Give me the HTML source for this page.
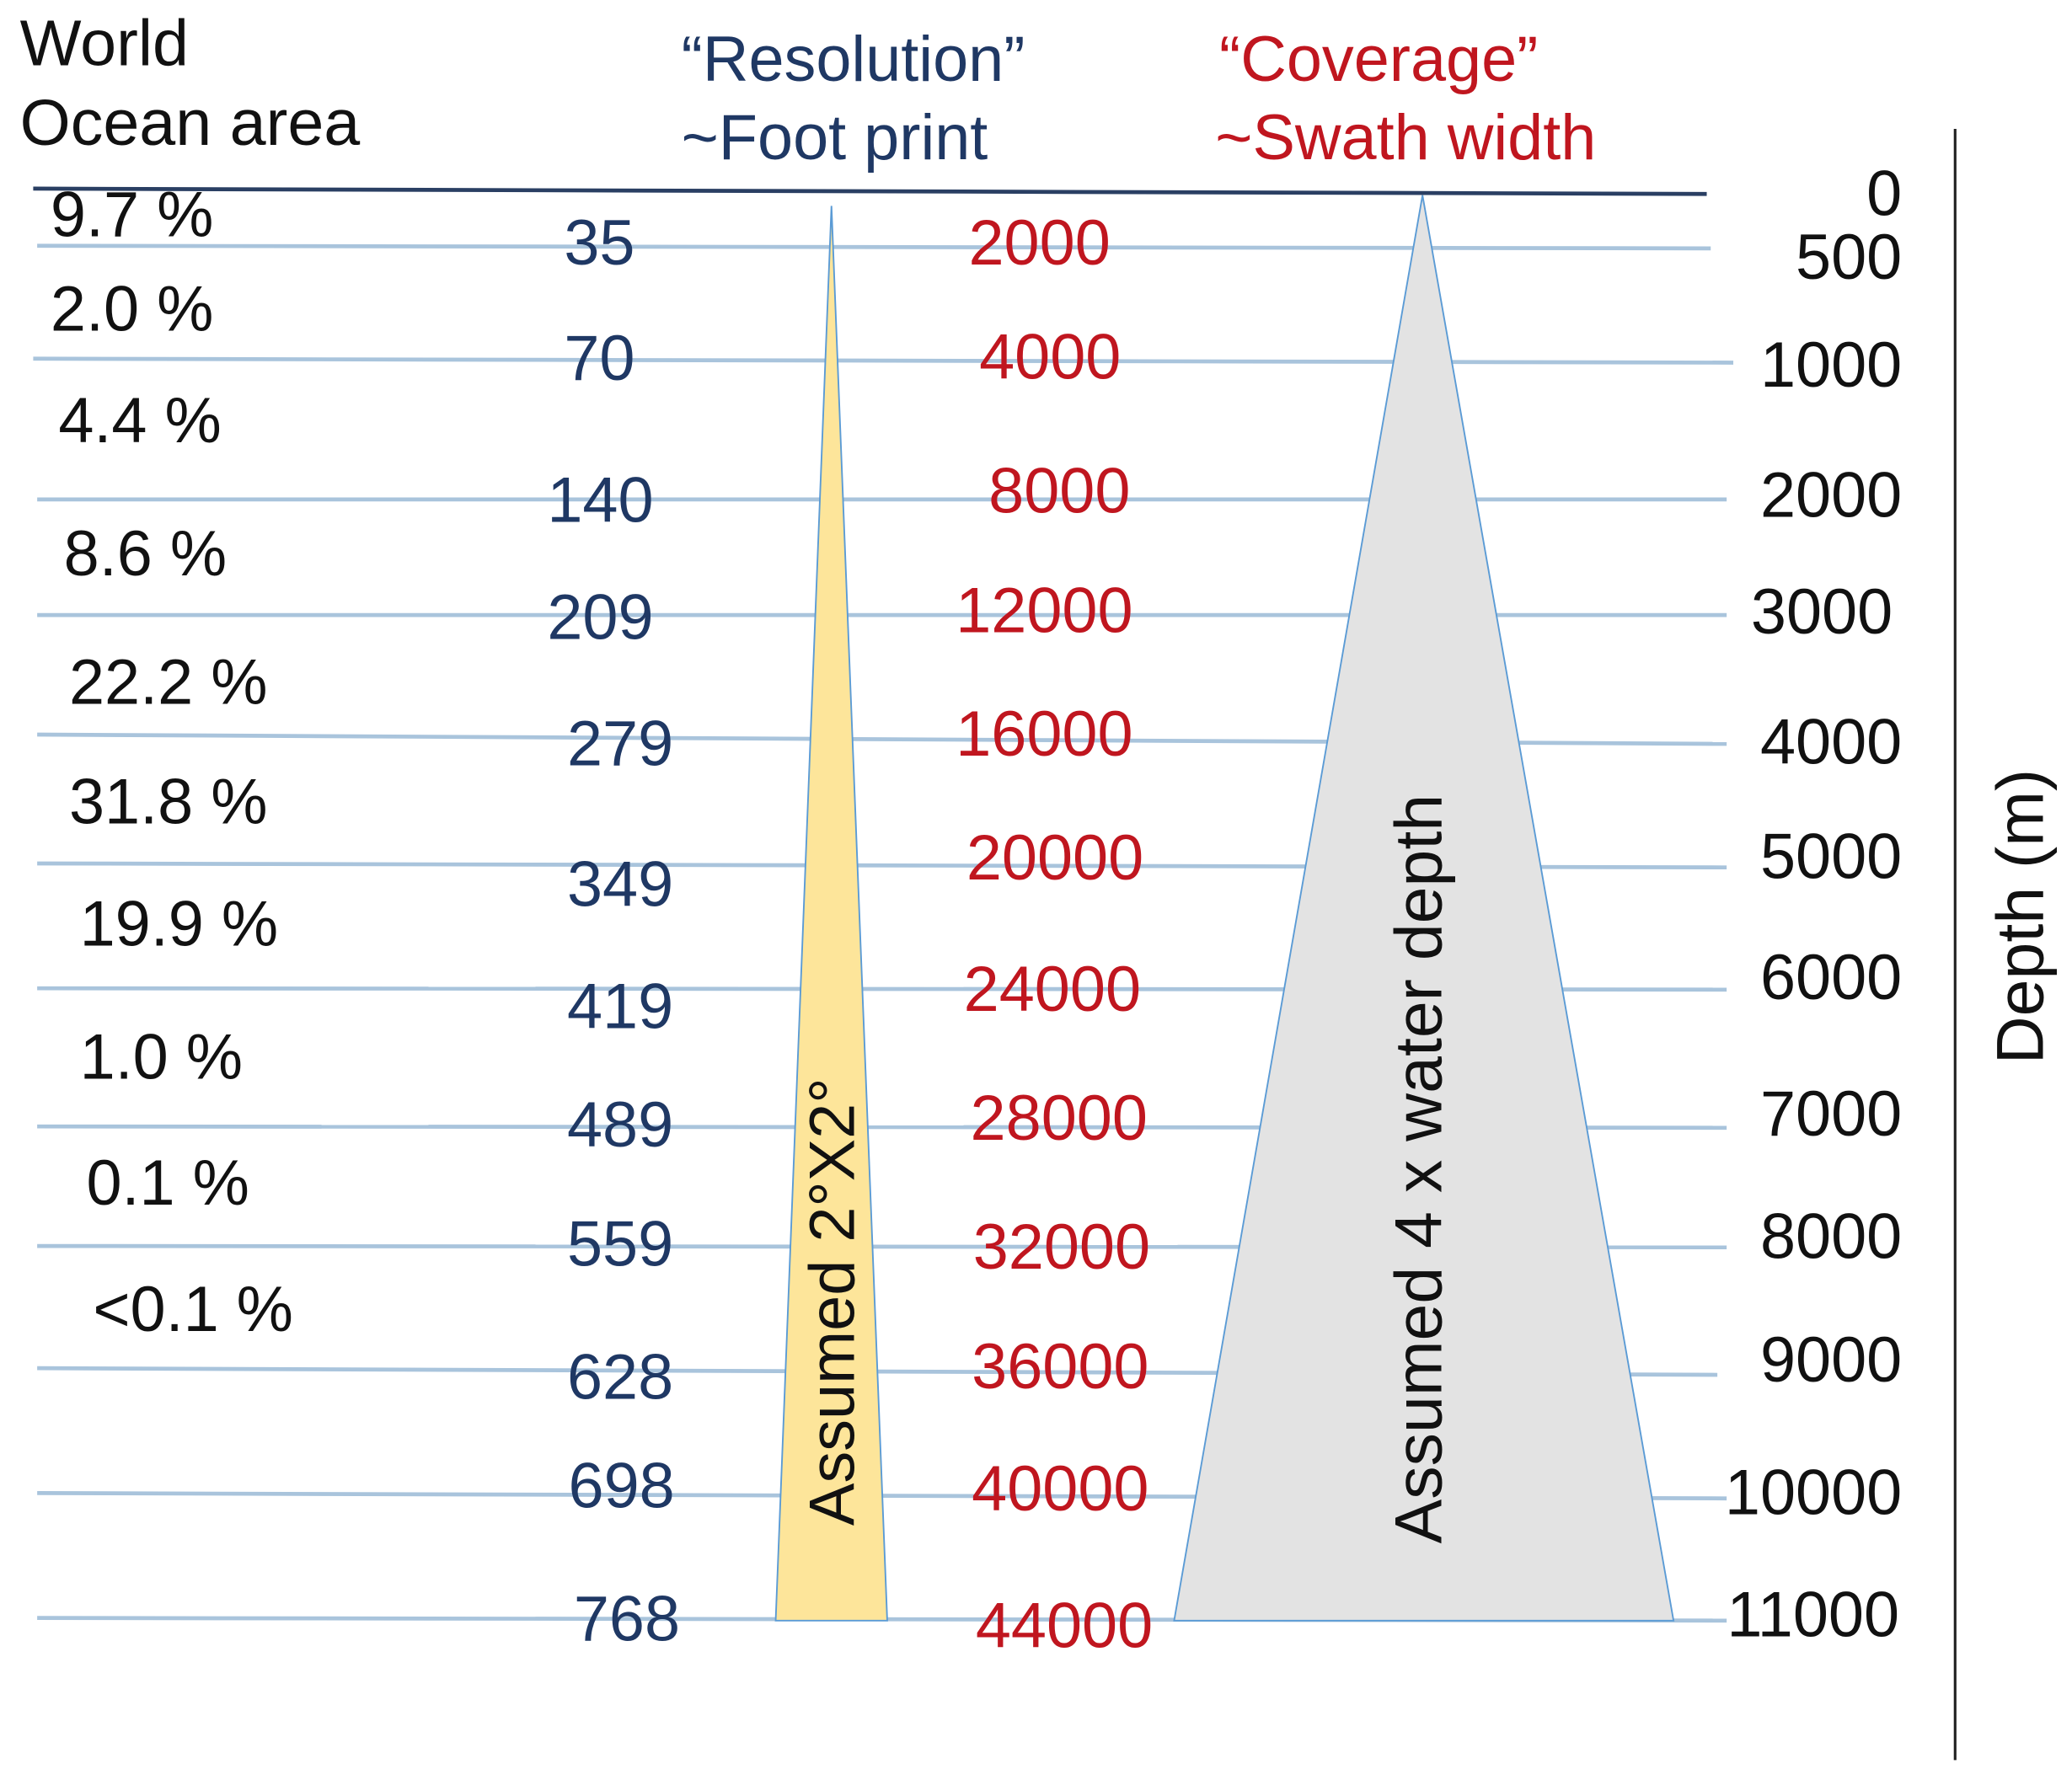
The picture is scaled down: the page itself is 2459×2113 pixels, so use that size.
<!DOCTYPE html>
<html><head><meta charset="utf-8"><style>
html,body{margin:0;padding:0;background:#fff;}
svg{display:block;}
text{font-family:"Liberation Sans",Arial,sans-serif;}
</style></head><body>
<svg width="2459" height="2113" viewBox="0 0 1560 1340" preserveAspectRatio="none" xmlns="http://www.w3.org/2000/svg">
<rect width="1560" height="1340" fill="#fff"/>
<g stroke="#a9c4dc" stroke-width="3">
<line x1="28" y1="185" x2="1288" y2="187"/>
<line x1="25" y1="270" x2="1305" y2="273"/>
<line x1="28" y1="376" x2="1300" y2="376"/>
<line x1="28" y1="463" x2="1300" y2="463"/>
<line x1="28" y1="553" x2="1300" y2="560"/>
<line x1="28" y1="650" x2="1300" y2="653"/>
<line x1="28" y1="744" x2="1300" y2="745"/>
<line x1="28" y1="848" x2="1300" y2="849"/>
<line x1="28" y1="938" x2="1300" y2="939"/>
<line x1="28" y1="1030" x2="1293" y2="1035"/>
<line x1="28" y1="1124" x2="1300" y2="1128"/>
<line x1="28" y1="1218" x2="1300" y2="1220"/>
</g>
<line x1="25" y1="142" x2="1285" y2="146" stroke="#2a3f63" stroke-width="3"/>
<line x1="1472" y1="97" x2="1472" y2="1325" stroke="#222" stroke-width="2"/>
<polygon points="626,155 584,1220 668,1220" fill="#fde59a" stroke="#5b9bd5" stroke-width="1.2"/>
<polygon points="1071,147 884,1220 1260,1220" fill="#e3e3e3" stroke="#5b9bd5" stroke-width="1.2"/>
<g font-size="49" fill="#111">
<text x="15" y="49">World</text>
<text x="15" y="109">Ocean area</text>
</g>
<g font-size="48" fill="#1f3864">
<text x="513" y="61">“Resolution”</text>
<text x="513" y="120">~Foot print</text>
</g>
<g font-size="48" fill="#c0161f">
<text x="918" y="61">“Coverage”</text>
<text x="915" y="120">~Swath width</text>
</g>
<g font-size="48" fill="#111">
<text x="38" y="178">9.7 %</text>
<text x="38" y="249">2.0 %</text>
<text x="44" y="333">4.4 %</text>
<text x="48" y="433">8.6 %</text>
<text x="52" y="530">22.2 %</text>
<text x="52" y="620">31.8 %</text>
<text x="60" y="712">19.9 %</text>
<text x="60" y="812">1.0 %</text>
<text x="65" y="907">0.1 %</text>
<text x="70" y="1002">&lt;0.1 %</text>
</g>
<g font-size="48" fill="#1f3864" text-anchor="end">
<text x="478" y="199">35</text>
<text x="478" y="286">70</text>
<text x="492" y="393">140</text>
<text x="492" y="481">209</text>
<text x="507" y="576">279</text>
<text x="507" y="682">349</text>
<text x="507" y="774">419</text>
<text x="507" y="863">489</text>
<text x="507" y="953">559</text>
<text x="507" y="1053">628</text>
<text x="508" y="1135">698</text>
<text x="512" y="1235">768</text>
</g>
<g font-size="48" fill="#c0161f" text-anchor="end">
<text x="836" y="199">2000</text>
<text x="844" y="285">4000</text>
<text x="851" y="386">8000</text>
<text x="853" y="476">12000</text>
<text x="853" y="569">16000</text>
<text x="861" y="662">20000</text>
<text x="859" y="761">24000</text>
<text x="864" y="858">28000</text>
<text x="866" y="955">32000</text>
<text x="865" y="1045">36000</text>
<text x="865" y="1137">40000</text>
<text x="868" y="1240">44000</text>
</g>
<g font-size="48" fill="#111" text-anchor="end">
<text x="1432" y="162">0</text>
<text x="1432" y="210">500</text>
<text x="1432" y="291">1000</text>
<text x="1432" y="389">2000</text>
<text x="1425" y="477">3000</text>
<text x="1432" y="575">4000</text>
<text x="1432" y="661">5000</text>
<text x="1432" y="752">6000</text>
<text x="1432" y="855">7000</text>
<text x="1432" y="947">8000</text>
<text x="1432" y="1040">9000</text>
<text x="1432" y="1140">10000</text>
<text x="1430" y="1232">11000</text>
</g>
<text transform="translate(643,980) rotate(-90)" font-size="48" fill="#111" text-anchor="middle">Assumed 2°X2°</text>
<text transform="translate(1085,880) rotate(-90)" font-size="50" fill="#111" text-anchor="middle">Assumed 4 x water depth</text>
<text transform="translate(1538,690) rotate(-90)" font-size="50" fill="#111" text-anchor="middle">Depth (m)</text>
</svg>
</body></html>
